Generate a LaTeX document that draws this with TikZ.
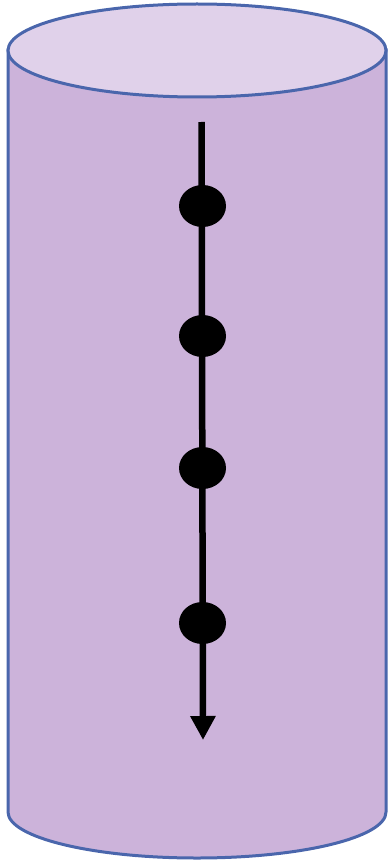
\documentclass[tikz,border=0pt]{standalone}
\usetikzlibrary{arrows.meta,shapes.geometric}
\definecolor{cylside}{HTML}{CCB3DA}
\definecolor{cyltop}{HTML}{E0D1EA}
\definecolor{cylline}{HTML}{4A66AC}
\tikzset{
  cylstroke/.style={draw=cylline, line width=3pt},
  bead/.style={ellipse, fill=black, inner sep=0pt, minimum width=47pt, minimum height=42pt},
  axisline/.style={line width=6.5pt, -{Triangle[width=24pt,length=24pt]}}
}
\begin{document}
\begin{tikzpicture}[x=1pt,y=-1pt]
\useasboundingbox (0,0) rectangle (388,861);
\path[cylstroke, fill=cylside] (8,50) -- (8,812) arc[start angle=180,end angle=0,x radius=189,y radius=46] -- (386,50) -- cycle;
\path[cylstroke, fill=cyltop] (197,50.5) ellipse [x radius=189, y radius=46.5];
\coordinate (s) at (201.5,122);
\coordinate (e) at (203,740);
\draw[axisline] (s) -- (e);
\node[bead] (d1) at (202.5,206) {};
\node[bead] (d2) at (202.5,336) {};
\node[bead] (d3) at (202.5,468) {};
\node[bead] (d4) at (202.5,623) {};
\end{tikzpicture}
\end{document}
